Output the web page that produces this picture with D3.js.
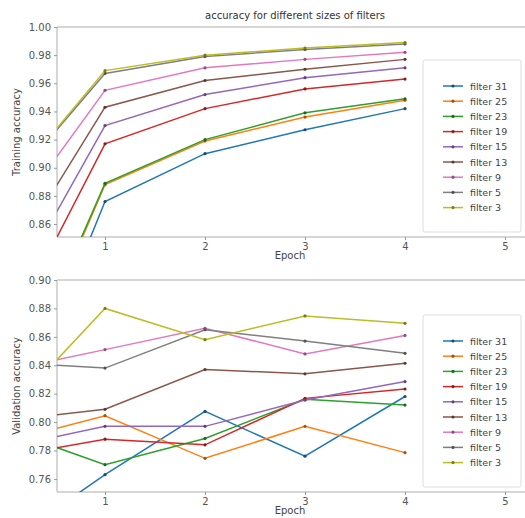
<!DOCTYPE html>
<html>
<head>
<meta charset="utf-8">
<script src="https://cdn.jsdelivr.net/npm/d3@7"></script>
<style>
  body { margin: 0; background: #fff; }
  svg { display: block; font-family: "DejaVu Sans", sans-serif; }
</style>
</head>
<body>
<svg id="chart" width="525" height="518"></svg>
<script>
// epochs 0..4, epoch 0 is clipped by the x limits (like the source plot)
const epochs = [0, 1, 2, 3, 4];
const filters = ["filter 31", "filter 25", "filter 23", "filter 19", "filter 15",
  "filter 13", "filter 9", "filter 5", "filter 3"];
const colors = ["#1f77b4", "#ff7f0e", "#2ca02c", "#d62728", "#9467bd",
  "#8c564b", "#e377c2", "#7f7f7f", "#bcbd22"];

const trainAcc = [
  [0.701, 0.876, 0.910, 0.927, 0.942],
  [0.722, 0.888, 0.919, 0.936, 0.948],
  [0.726, 0.889, 0.920, 0.939, 0.949],
  [0.779, 0.917, 0.942, 0.956, 0.963],
  [0.803, 0.930, 0.952, 0.964, 0.971],
  [0.828, 0.943, 0.962, 0.970, 0.977],
  [0.857, 0.955, 0.971, 0.977, 0.982],
  [0.884, 0.967, 0.979, 0.984, 0.988],
  [0.884, 0.969, 0.980, 0.985, 0.989]
];
const valAcc = [
  [0.714, 0.763, 0.8075, 0.776, 0.818],
  [0.786, 0.8045, 0.7745, 0.797, 0.7785],
  [0.795, 0.770, 0.7885, 0.816, 0.812],
  [0.7755, 0.788, 0.784, 0.8167, 0.8233],
  [0.782, 0.797, 0.797, 0.8155, 0.8285],
  [0.801, 0.809, 0.837, 0.834, 0.8414],
  [0.836, 0.851, 0.866, 0.848, 0.861],
  [0.842, 0.838, 0.865, 0.857, 0.8484],
  [0.805, 0.880, 0.858, 0.8747, 0.8695]
];
const xTicks = [1, 2, 3, 4, 5];
const trainTicks = [0.86, 0.88, 0.90, 0.92, 0.94, 0.96, 0.98, 1.00];
const valTicks = [0.76, 0.78, 0.80, 0.82, 0.84, 0.86, 0.88, 0.90];

const svg = d3.select("#chart");
const x = d3.scaleLinear().domain([0.52, 5.5]).range([57, 555]);

function panel(id, data, yDomain, yRange, yTicks, yLabel, legendBox) {
  const y = d3.scaleLinear().domain(yDomain).range(yRange);
  const g = svg.append("g");
  const top = yRange[1], bottom = yRange[0];

  g.append("clipPath").attr("id", id)
    .append("rect").attr("x", 57).attr("y", top).attr("width", 525 - 57).attr("height", bottom - top);

  // frame
  const frame = "#c8c8c8";
  g.append("line").attr("x1", 57).attr("x2", 525).attr("y1", top).attr("y2", top)
    .attr("stroke", frame).attr("stroke-width", 1.5);
  g.append("line").attr("x1", 57).attr("x2", 525).attr("y1", bottom).attr("y2", bottom)
    .attr("stroke", frame).attr("stroke-width", 1.5);
  g.append("line").attr("x1", 57).attr("x2", 57).attr("y1", top).attr("y2", bottom)
    .attr("stroke", frame).attr("stroke-width", 1.5);

  // axes (labels only, no domain)
  const xa = g.append("g").attr("transform", "translate(0," + bottom + ")")
    .call(d3.axisBottom(x).tickValues(xTicks).tickFormat(d3.format("d")).tickSize(3).tickPadding(3));
  const ya = g.append("g").attr("transform", "translate(57,0)")
    .call(d3.axisLeft(y).tickValues(yTicks).tickFormat(d3.format(".2f")).tickSize(3).tickPadding(3));
  [xa, ya].forEach(a => {
    a.select(".domain").remove();
    a.selectAll(".tick line").attr("stroke", "#999");
    a.selectAll("text").attr("fill", "#555").attr("font-size", 10)
      .attr("font-family", "DejaVu Sans, sans-serif");
  });

  g.append("text").attr("x", 290).attr("y", bottom + 22).attr("text-anchor", "middle")
    .attr("font-size", 10).attr("fill", "#444").text("Epoch");
  g.append("text").attr("transform", "translate(20," + (top + bottom) / 2 + ") rotate(-90)")
    .attr("text-anchor", "middle").attr("font-size", 10).attr("fill", "#444").text(yLabel);

  const line = d3.line().x((d, i) => x(epochs[i])).y(d => y(d));
  const plot = g.append("g").attr("clip-path", "url(#" + id + ")");
  data.forEach((s, k) => {
    plot.append("path").attr("d", line(s)).attr("fill", "none")
      .attr("stroke", colors[k]).attr("stroke-width", 1.5);
    plot.selectAll(null).data(s).enter().append("circle")
      .attr("cx", (d, i) => x(epochs[i])).attr("cy", d => y(d)).attr("r", 1.6)
      .attr("fill", d3.color(colors[k]).darker(1.2));
  });

  // legend
  const lg = g.append("g");
  lg.append("rect").attr("x", legendBox.x).attr("y", legendBox.y)
    .attr("width", legendBox.w).attr("height", legendBox.h).attr("rx", 2)
    .attr("fill", "#fff").attr("stroke", "#ddd");
  filters.forEach((f, k) => {
    const ly = legendBox.y + 26 + k * 15.2;
    lg.append("line").attr("x1", 443).attr("x2", 463).attr("y1", ly).attr("y2", ly)
      .attr("stroke", colors[k]).attr("stroke-width", 1.5);
    lg.append("circle").attr("cx", 453).attr("cy", ly).attr("r", 1.6)
      .attr("fill", d3.color(colors[k]).darker(1.2));
    lg.append("text").attr("x", 470).attr("y", ly + 3.5).attr("font-size", 9.5)
      .attr("fill", "#444").text(f);
  });
}

svg.append("text").attr("x", 295).attr("y", 19).attr("text-anchor", "middle")
  .attr("font-size", 10).attr("fill", "#333").text("accuracy for different sizes of filters");

panel("clipTrain", trainAcc, [0.8508, 1.0], [237, 27], trainTicks, "Training accuracy",
  {x: 423, y: 60, w: 98, h: 172});
panel("clipVal", valAcc, [0.7508, 0.9], [492, 280], valTicks, "Validation accuracy",
  {x: 423, y: 315, w: 98, h: 172});
</script>
</body>
</html>
